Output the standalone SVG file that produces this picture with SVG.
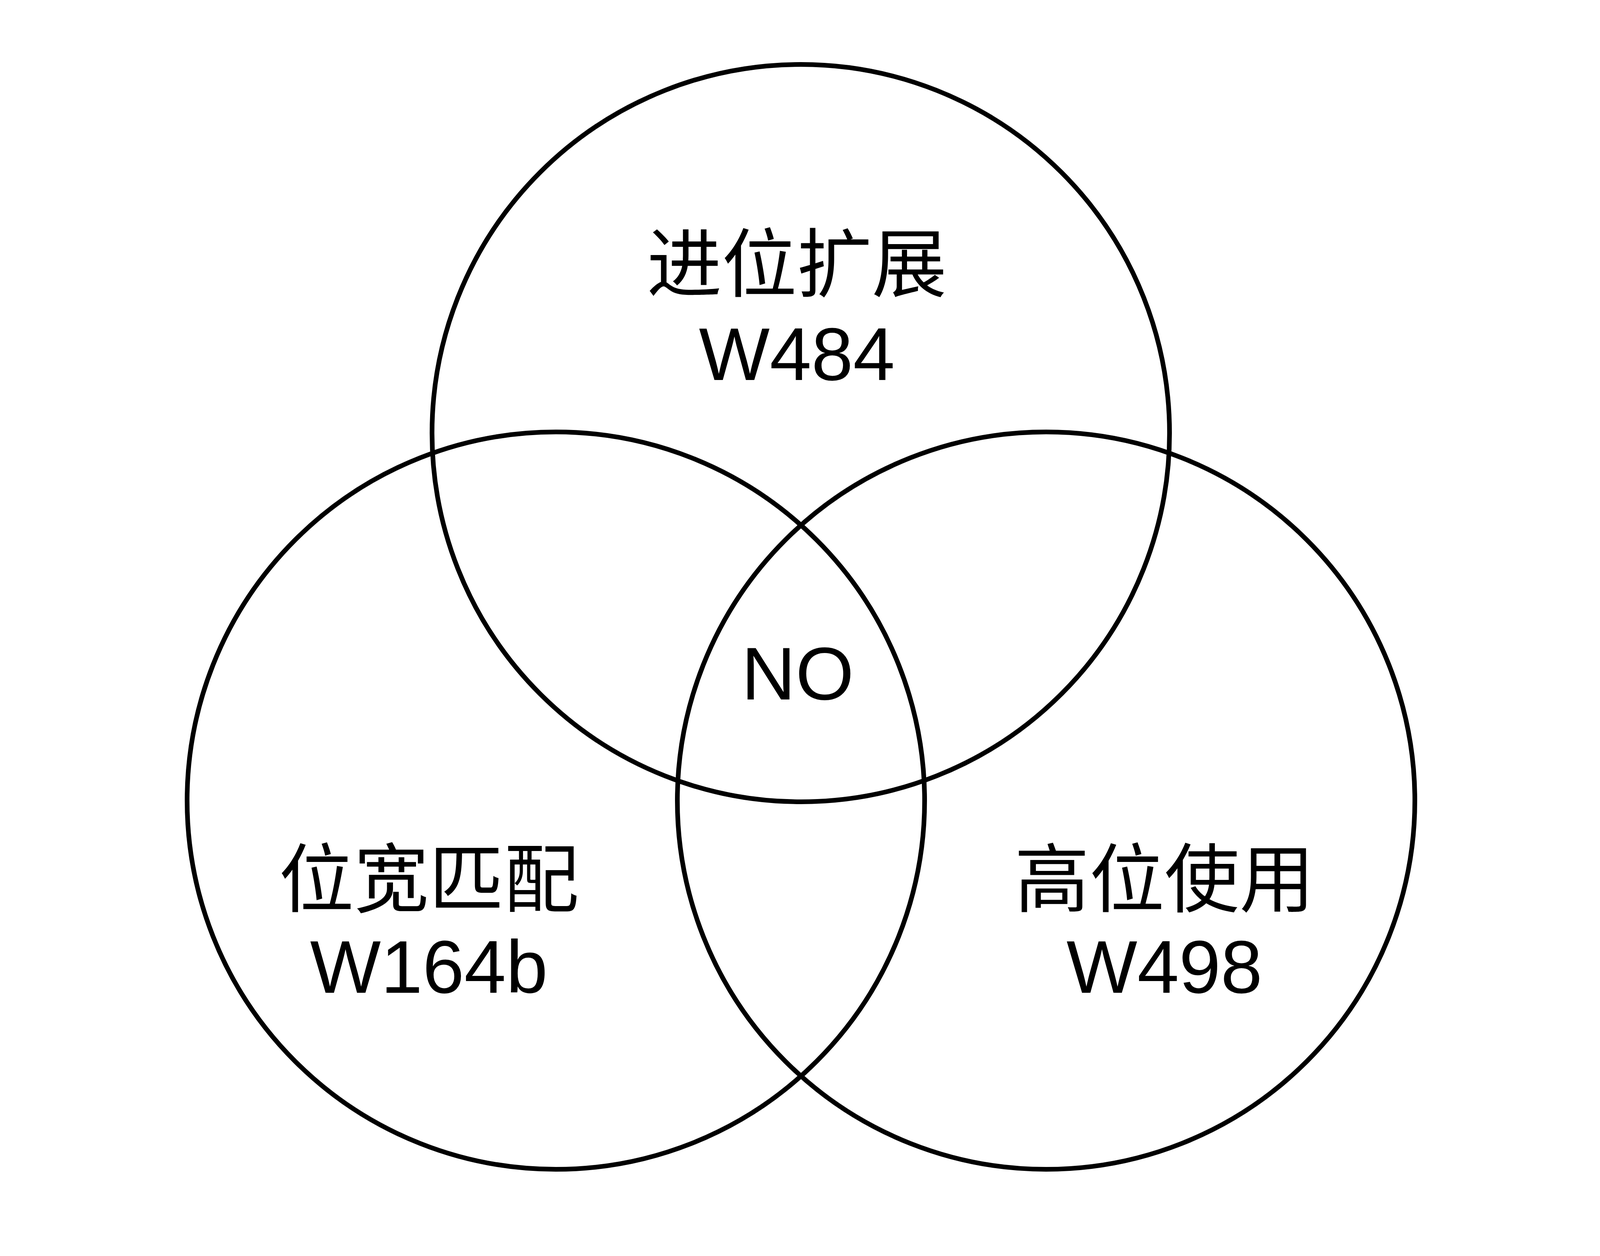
<svg xmlns="http://www.w3.org/2000/svg" width="4176" height="3216" viewBox="0 0 4176 3216">
<style>
.c{fill:none;stroke:#000;stroke-width:12}
.t{font-family:"Liberation Sans","Noto Sans CJK SC",sans-serif;font-size:192px;text-anchor:middle;fill:#000}
</style>
<rect width="4176" height="3216" fill="#fff"/>
<g id="carry"><circle class="c" cx="2050" cy="1109" r="944"/><text class="t" x="2040" y="745">进位扩展</text><text class="t" x="2040" y="973">W484</text></g>
<g id="width"><circle class="c" cx="1423" cy="2050" r="944"/><text class="t" x="1098" y="2320">位宽匹配</text><text class="t" x="1098" y="2542">W164b</text></g>
<g id="high"><circle class="c" cx="2678" cy="2050" r="944"/><text class="t" x="2981" y="2320">高位使用</text><text class="t" x="2981" y="2542">W498</text></g>
<g id="center"><text class="t" x="2042" y="1791">NO</text></g>
</svg>
